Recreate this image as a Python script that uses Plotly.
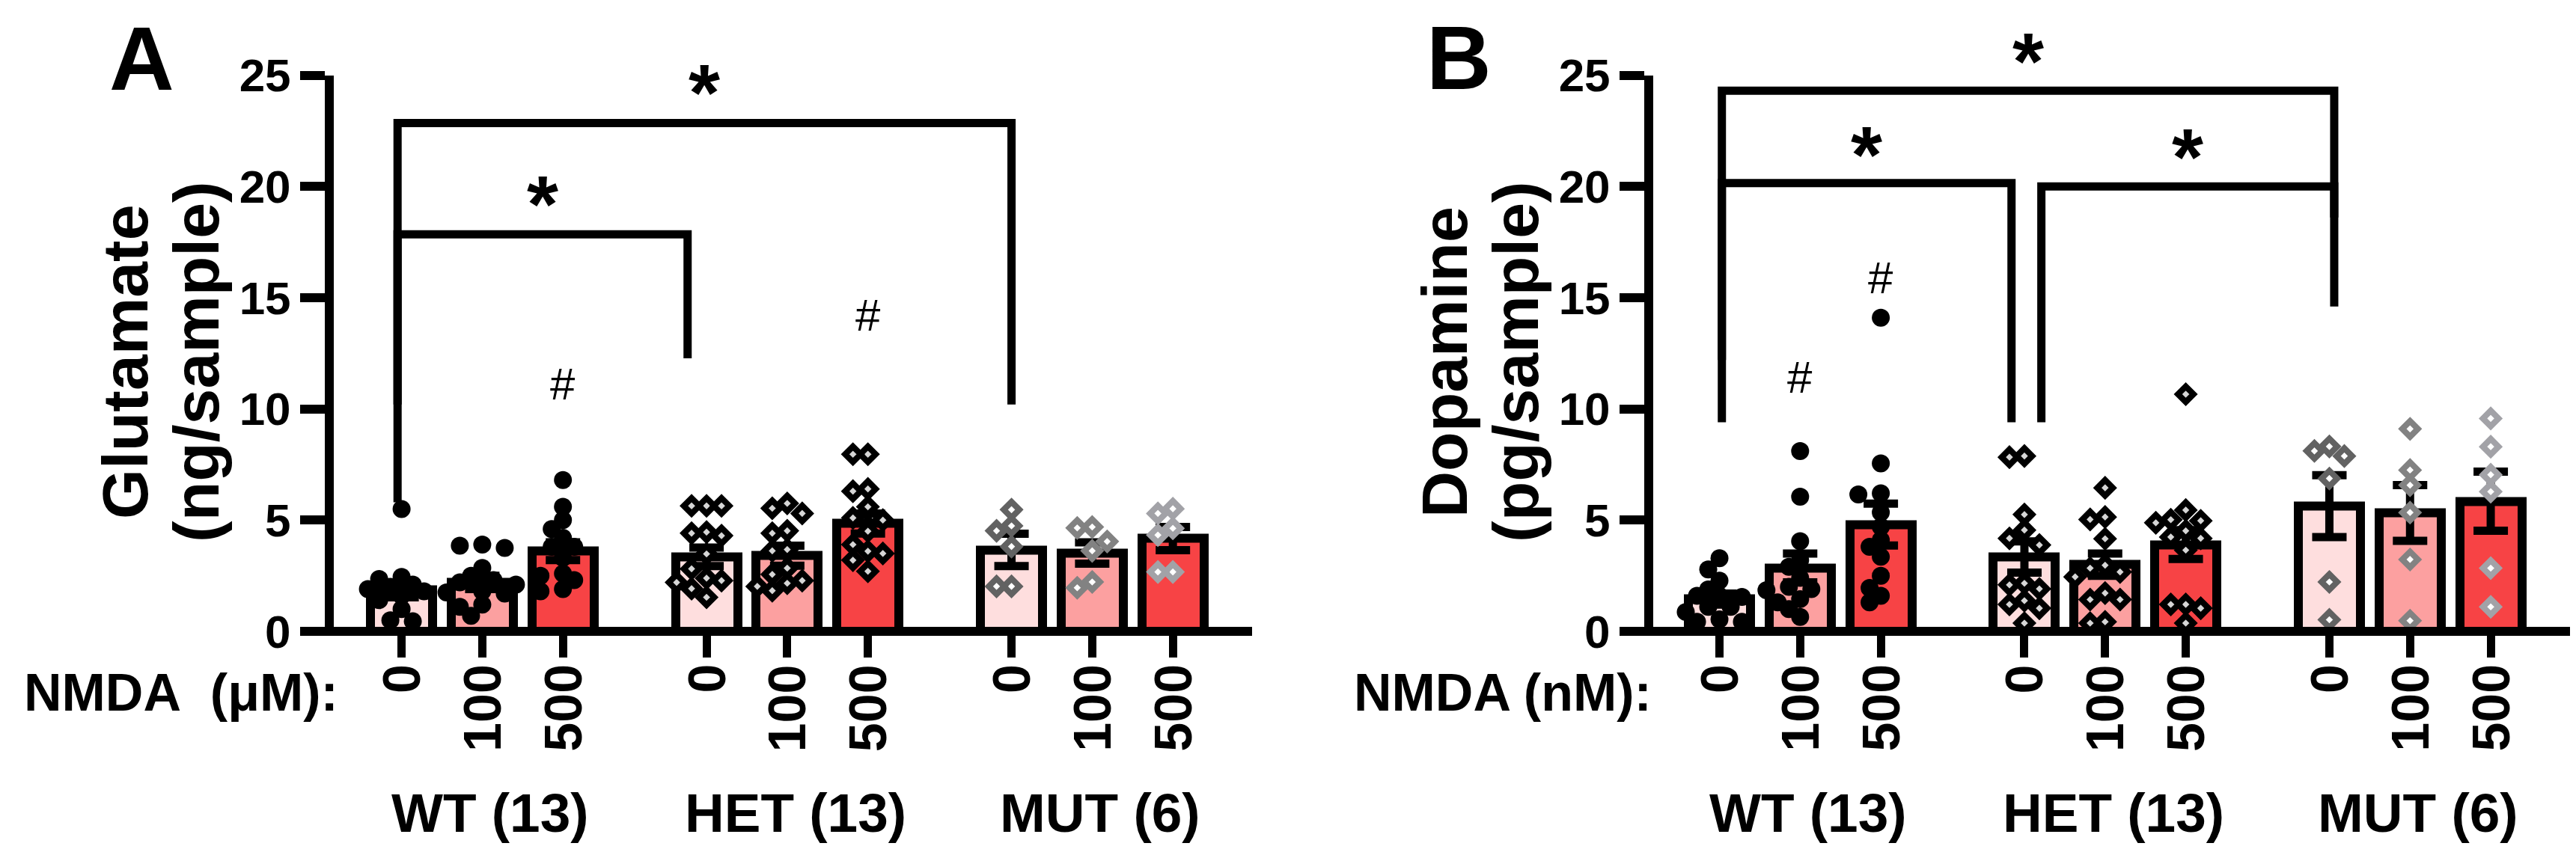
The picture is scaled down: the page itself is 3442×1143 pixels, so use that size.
import plotly.graph_objects as go

W, H = 3442, 1143

# ---------------- categories / ticks ----------------
genotypes = ["WT (13)", "HET (13)", "MUT (6)"]
nmda_doses = ["0", "100", "500"]
bar_x = [0, 1, 2, 3.78, 4.78, 5.78, 7.56, 8.56, 9.56]
group_x = [1, 4.78, 8.56]
y_ticks = [0, 5, 10, 15, 20, 25]

# ---------------- Panel A : Glutamate (ng/sample) ----------------
glu_mean = [1.85, 2.2, 3.6, 3.35, 3.4, 4.85, 3.66, 3.52, 4.17]
glu_sem = [0.32, 0.3, 0.4, 0.42, 0.45, 0.45, 0.73, 0.48, 0.52]
glu_wt0 = [5.5, 2.45, 2.35, 2.1, 2.0, 1.9, 1.8, 1.75, 1.6, 1.4, 1.0, 0.5, 0.45]
glu_wt100 = [3.9, 3.85, 3.75, 2.85, 2.5, 2.3, 2.2, 2.1, 1.8, 1.7, 1.2, 1.1, 0.7]
glu_wt500 = [6.8, 5.6, 5.0, 4.6, 4.2, 3.8, 3.8, 3.3, 2.6, 2.5, 2.3, 1.9, 1.8]
glu_het0 = [5.64, 5.64, 5.64, 4.46, 4.41, 4.3, 3.48, 2.81, 2.39, 2.28, 2.2, 1.92, 1.53]
glu_het100 = [5.75, 5.53, 5.30, 4.52, 4.41, 3.68, 3.62, 2.84, 2.56, 2.28, 2.16, 2.02, 1.83]
glu_het500 = [7.96, 7.96, 6.4, 6.3, 5.6, 5.1, 5.0, 4.5, 3.9, 3.6, 3.5, 3.2, 2.7]
glu_mut0 = [5.47, 4.74, 4.52, 3.81, 2.02, 2.02]
glu_mut100 = [4.69, 4.65, 4.04, 3.62, 2.22, 1.96]
glu_mut500 = [5.51, 5.30, 4.63, 4.33, 2.67, 2.67]
# brackets: (left x, right x, top y, left leg end y, right leg end y)
glu_brackets = [(-0.05, 7.56, 22.85, 10.2, 10.2), (-0.05, 3.545, 17.85, 5.8, 12.27)]
glu_stars_y = [24.7, 19.7]
glu_hash = [(2, 11.1), (5.78, 14.2)]

# ---------------- Panel B : Dopamine (pg/sample) ----------------
dop_mean = [1.45, 2.85, 4.8, 3.34, 3.0, 3.9, 5.63, 5.32, 5.85]
dop_sem = [0.25, 0.65, 0.94, 0.7, 0.5, 0.65, 1.39, 1.25, 1.33]
dop_wt0 = [3.29, 2.78, 2.28, 1.88, 1.6, 1.6, 1.55, 1.1, 1.1, 0.87, 0.54, 0.43, 0.43]
dop_wt100 = [8.1, 6.05, 4.05, 3.2, 2.9, 2.4, 2.0, 1.9, 1.85, 1.45, 1.3, 1.0, 0.65]
dop_wt500 = [14.1, 7.55, 6.2, 6.15, 5.35, 4.7, 4.1, 3.8, 3.35, 2.5, 1.95, 1.6, 1.3]
dop_het0 = [7.88, 7.83, 5.25, 4.55, 4.18, 3.88, 2.16, 2.09, 1.91, 1.38, 1.21, 1.04, 0.37]
dop_het100 = [6.45, 5.14, 5.03, 4.16, 2.97, 2.84, 2.67, 2.45, 1.72, 1.43, 1.43, 0.43, 0.37]
dop_het500 = [10.66, 5.45, 5.02, 4.97, 4.88, 4.52, 4.24, 4.18, 3.65, 1.21, 1.21, 1.04, 0.37]
dop_mut0 = [8.31, 8.11, 7.88, 6.87, 2.22, 0.52]
dop_mut100 = [9.1, 7.25, 6.57, 5.34, 3.23, 0.48]
dop_mut500 = [9.57, 8.3, 7.04, 6.28, 2.84, 1.1]
dop_brackets = [(0.03, 7.62, 24.3, 12.2, 18.6), (0.03, 3.62, 20.15, 9.4, 9.4), (3.99, 7.62, 20.0, 9.4, 14.6)]
dop_stars_y = [26.1, 21.9, 21.8]
dop_hash = [(1, 11.4), (2, 15.9)]

# ---------------- styles ----------------
FONT = "Liberation Sans, Arial, sans-serif"
bar_fill = ["#FEDEDE", "#FCA0A0", "#F74345"] * 3
pt_symbol = ["circle"] * 3 + ["diamond"] * 6
pt_fill = ["black"] * 3 + ["#D6D6D6"] * 3 + ["white"] * 3
pt_line = ["black"] * 3 + ["black"] * 3 + ["#626262", "#828282", "#A2A2A7"]

PX_X = 107.8                 # pixels per x unit
Y0_PX, YTOP_PX = 836, 92.5   # pixel rows of y=0 and y=25
PX_Y = (Y0_PX - YTOP_PX) / 25.0

panels = [
    dict(axis_px=432, x0_px=528.6, right_px=1665, means=glu_mean, sems=glu_sem,
         pts=[glu_wt0, glu_wt100, glu_wt500, glu_het0, glu_het100, glu_het500, glu_mut0, glu_mut100, glu_mut500],
         brackets=glu_brackets, stars=glu_stars_y, hashes=glu_hash,
         letter="A", letter_xy=(181, 70), title=("Glutamate", "(ng/sample)"),
         nmda="NMDA\u00a0\u00a0(\u03bcM):", nmda_x=22),
    dict(axis_px=2195, x0_px=2289.5, right_px=3428, means=dop_mean, sems=dop_sem,
         pts=[dop_wt0, dop_wt100, dop_wt500, dop_het0, dop_het100, dop_het500, dop_mut0, dop_mut100, dop_mut500],
         brackets=dop_brackets, stars=dop_stars_y, hashes=dop_hash,
         letter="B", letter_xy=(1941, 69), title=("Dopamine", "(pg/sample)"),
         nmda="NMDA (nM):", nmda_x=1799),
]


def swarm(vals, step, dist):
    placed, offs = [], []
    cands = [0]
    for i in range(1, 15):
        cands += [-i * step, i * step]
    for v in vals:
        yv = v * PX_Y
        for c in cands:
            if all((c - px) ** 2 + (yv - py) ** 2 >= dist ** 2 for px, py in placed):
                break
        placed.append((c, yv))
        offs.append(c / PX_X)
    return offs


def px2paper(x, y):
    return x / W, 1 - y / H


def val2paper(v):
    return 1 - (Y0_PX - v * PX_Y) / H


fig = go.Figure()
shapes, annotations = [], []
for k, p in enumerate(panels):
    sfx = "" if k == 0 else str(k + 1)
    xa, ya = "x" + sfx, "y" + sfx
    fig.add_trace(go.Bar(
        x=bar_x, y=p["means"], width=0.77, xaxis=xa, yaxis=ya,
        marker=dict(color=bar_fill, line=dict(color="black", width=12)),
        error_y=dict(type="data", array=p["sems"], visible=True, color="black", thickness=11, width=23),
        cliponaxis=False, showlegend=False, hoverinfo="skip"))
    for i, vals in enumerate(p["pts"]):
        circ = pt_symbol[i] == "circle"
        offs = swarm(vals, 15 if circ else 20, 17 if circ else 20)
        fig.add_trace(go.Scatter(
            x=[bar_x[i] + o for o in offs], y=vals, mode="markers", xaxis=xa, yaxis=ya,
            marker=dict(symbol=pt_symbol[i], size=24 if circ else 16, color=pt_fill[i],
                        line=dict(color=pt_line[i], width=0 if circ else 8)),
            cliponaxis=False, showlegend=False, hoverinfo="skip"))
    dom_l = p["axis_px"] + 6
    fig.update_layout(**{
        "xaxis" + sfx: dict(domain=[dom_l / W, p["right_px"] / W],
                            range=[(dom_l - p["x0_px"]) / PX_X, (p["right_px"] - p["x0_px"]) / PX_X],
                            showline=False, showgrid=False, zeroline=False, automargin=False,
                            tickmode="array", tickvals=bar_x, showticklabels=False,
                            ticks="outside", ticklen=34, tickwidth=11, tickcolor="black", anchor=ya),
        "yaxis" + sfx: dict(domain=[1 - Y0_PX / H, 1 - YTOP_PX / H], range=[0, 25],
                            showline=True, linewidth=12, linecolor="black", showgrid=False, zeroline=False,
                            automargin=False,
                            tickmode="array", tickvals=y_ticks, ticks="outside", ticklen=33, tickwidth=12,
                            tickcolor="black", anchor=xa,
                            tickfont=dict(family=FONT, size=62, color="black", weight=700)),
    })
    # x tick labels (NMDA doses), rotated, hanging below the ticks
    for bx, lab in zip(bar_x, nmda_doses * 3):
        annotations.append(dict(x=bx, y=1 - 878 / H, xref=xa, yref="paper", text=lab, showarrow=False,
                                textangle=-90, xanchor="center", yanchor="top",
                                font=dict(family=FONT, size=70, color="black", weight=700)))
    # x axis line, extending left over the 0 tick
    x0p, yp = px2paper(p["axis_px"] - 33, Y0_PX)
    x1p, _ = px2paper(p["right_px"], Y0_PX)
    shapes.append(dict(type="line", xref="paper", yref="paper", x0=x0p, x1=x1p, y0=yp, y1=yp,
                       line=dict(color="black", width=12)))
    # significance brackets + stars
    for (xl, xr, yt, yl, yr), sy in zip(p["brackets"], p["stars"]):
        shapes.append(dict(type="path", xref=xa, yref=ya,
                           path=f"M {xl},{yl} L {xl},{yt} L {xr},{yt} L {xr},{yr}",
                           line=dict(color="black", width=11)))
        annotations.append(dict(x=(xl + xr) / 2, y=val2paper(sy), xref=xa, yref="paper", text="*",
                                showarrow=False, xanchor="center", yanchor="middle", yshift=-14,
                                font=dict(family=FONT, size=108, color="black", weight=700)))
    for hx, hy in p["hashes"]:
        annotations.append(dict(x=hx, y=val2paper(hy), xref=xa, yref="paper", text="#", showarrow=False,
                                xanchor="center", yanchor="middle",
                                font=dict(family=FONT, size=60, color="black")))
    for gx, g in zip(group_x, genotypes):
        annotations.append(dict(x=gx + 0.1, y=1 - 1078 / H, xref=xa, yref="paper", text=g, showarrow=False,
                                xanchor="center", yanchor="middle",
                                font=dict(family=FONT, size=73, color="black", weight=700)))
    nx, ny = px2paper(p["nmda_x"], 918)
    annotations.append(dict(x=nx, y=ny, xref="paper", yref="paper", text=p["nmda"], showarrow=False,
                            xanchor="left", yanchor="middle",
                            font=dict(family=FONT, size=70, color="black", weight=700)))
    lx, ly = px2paper(*p["letter_xy"])
    annotations.append(dict(x=lx, y=ly, xref="paper", yref="paper", text=p["letter"], showarrow=False,
                            xanchor="center", yanchor="middle",
                            font=dict(family=FONT, size=120, color="black", weight=700)))
    for j, t in enumerate(p["title"]):
        tx, ty = px2paper(p["axis_px"] - (273 if j == 0 else 178), 476)
        annotations.append(dict(x=tx, y=ty, xref="paper", yref="paper", text=t, showarrow=False,
                                textangle=-90, xanchor="center", yanchor="middle",
                                font=dict(family=FONT, size=86, color="black", weight=700)))

fig.update_layout(width=W, height=H, margin=dict(l=0, r=0, t=0, b=0, autoexpand=False),
                  paper_bgcolor="white", plot_bgcolor="white", showlegend=False,
                  bargap=0, shapes=shapes, annotations=annotations)
fig.write_html("out.html")
